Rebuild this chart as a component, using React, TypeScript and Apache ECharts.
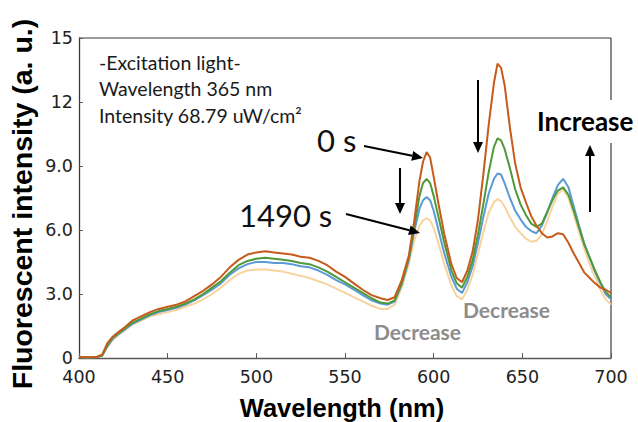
import React, { useEffect, useRef } from "react";
import * as echarts from "echarts";

const wavelengths = [400, 405, 410, 413, 416, 419, 422, 426, 430, 435, 440, 445, 450, 455, 460, 465, 470, 475, 480, 485, 490, 495, 500, 505, 510, 515, 520, 525, 530, 535, 540, 545, 550, 555, 560, 565, 570, 574, 578, 582, 586, 589, 592, 594, 596, 598, 600, 603, 606, 610, 613, 616, 619, 622, 625, 628, 631, 634, 636, 638, 640, 643, 646, 649, 652, 655, 658, 661, 664, 667, 670, 673, 676, 679, 682, 685, 688, 691, 694, 697, 700];

const series0s = [0.05, 0.03, 0.05, 0.15, 0.7, 1.0, 1.2, 1.45, 1.75, 1.95, 2.15, 2.3, 2.4, 2.5, 2.65, 2.9, 3.15, 3.45, 3.8, 4.25, 4.6, 4.85, 4.95, 5.0, 4.95, 4.9, 4.85, 4.75, 4.7, 4.55, 4.35, 4.05, 3.8, 3.5, 3.2, 2.95, 2.8, 2.72, 2.85, 3.65, 4.8, 6.4, 8.3, 9.2, 9.65, 9.4, 8.5, 7.1, 5.8, 4.4, 3.75, 3.55, 4.1, 5.0, 6.5, 8.6, 10.9, 12.9, 13.8, 13.6, 12.8, 10.8, 9.1, 8.0, 7.3, 6.65, 6.2, 5.85, 5.65, 5.7, 5.85, 5.8, 5.4, 4.9, 4.45, 4.0, 3.75, 3.5, 3.3, 3.2, 3.05];

const seriesGreen = [0.05, 0.03, 0.05, 0.12, 0.6, 0.95, 1.15, 1.4, 1.65, 1.85, 2.05, 2.2, 2.3, 2.4, 2.55, 2.75, 3.0, 3.3, 3.6, 4.0, 4.35, 4.55, 4.65, 4.7, 4.65, 4.6, 4.55, 4.45, 4.4, 4.25, 4.05, 3.8, 3.55, 3.3, 3.05, 2.8, 2.6, 2.55, 2.7, 3.5, 4.7, 6.1, 7.6, 8.2, 8.4, 8.2, 7.6, 6.5, 5.4, 4.1, 3.5, 3.3, 3.8, 4.6, 5.8, 7.2, 8.7, 9.9, 10.3, 10.2, 9.8, 8.9, 7.9, 7.2, 6.7, 6.3, 6.15, 6.3, 6.85, 7.4, 7.85, 8.0, 7.65, 6.9, 6.1, 5.3, 4.7, 4.1, 3.55, 3.1, 2.85];

const seriesBlue = [0.05, 0.03, 0.05, 0.1, 0.55, 0.9, 1.1, 1.35, 1.6, 1.8, 2.0, 2.15, 2.25, 2.35, 2.5, 2.7, 2.95, 3.2, 3.5, 3.9, 4.2, 4.4, 4.5, 4.5, 4.45, 4.45, 4.4, 4.3, 4.25, 4.1, 3.9, 3.65, 3.45, 3.2, 2.95, 2.7, 2.55, 2.5, 2.65, 3.45, 4.6, 5.9, 7.0, 7.4, 7.55, 7.4, 6.9, 5.9, 4.9, 3.8, 3.25, 3.05, 3.55, 4.3, 5.4, 6.6, 7.7, 8.4, 8.65, 8.6, 8.2, 7.5, 6.9, 6.5, 6.15, 5.95, 5.85, 6.2, 6.8, 7.5, 8.1, 8.4, 8.0, 7.1, 6.2, 5.35, 4.7, 4.05, 3.5, 3.0, 2.75];

const series1490s = [0.05, 0.03, 0.05, 0.1, 0.5, 0.85, 1.05, 1.3, 1.55, 1.75, 1.95, 2.05, 2.15, 2.25, 2.4, 2.55, 2.75, 3.0, 3.3, 3.65, 3.95, 4.1, 4.15, 4.15, 4.1, 4.05, 3.95, 3.85, 3.75, 3.6, 3.45, 3.25, 3.05, 2.85, 2.65, 2.45, 2.3, 2.3, 2.5, 3.3, 4.4, 5.5, 6.2, 6.45, 6.55, 6.45, 6.1, 5.3, 4.4, 3.4, 2.9, 2.75, 3.2, 3.9, 4.9, 5.9, 6.8, 7.3, 7.45, 7.35, 7.1, 6.6, 6.15, 5.85, 5.6, 5.45, 5.5, 5.8, 6.4, 7.1, 7.7, 7.9, 7.5, 6.7, 5.9, 5.1, 4.4, 3.8, 3.2, 2.75, 2.5];

const yTickLabels = ["0", "3.0", "6.0", "9.0", "12", "15"];
const xTicks = [400, 450, 500, 550, 600, 650, 700];

const infoLines = ["-Excitation light-", "Wavelength 365 nm", "Intensity 68.79 uW/cm²"];

function arrow(x1: number, y1: number, x2: number, y2: number, head = 11, half = 5) {
  const dx = x2 - x1;
  const dy = y2 - y1;
  const len = Math.sqrt(dx * dx + dy * dy);
  const ux = dx / len;
  const uy = dy / len;
  const bx = x2 - ux * head;
  const by = y2 - uy * head;
  const px = -uy;
  const py = ux;
  return [
    { type: "line", shape: { x1, y1, x2: bx, y2: by }, style: { stroke: "#000", lineWidth: 2 }, z: 10 },
    {
      type: "polygon",
      shape: { points: [[x2, y2], [bx + px * half, by + py * half], [bx - px * half, by - py * half]] },
      style: { fill: "#000" },
      z: 10,
    },
  ];
}

export default function App() {
  const ref = useRef<HTMLDivElement>(null);
  useEffect(() => {
    if (!ref.current) return;
    const chart = echarts.init(ref.current, null, { renderer: "svg" });
    const mk = (vals: number[]) => wavelengths.map((w, i) => [w, vals[i]]);
    const plotL = 79, plotT = 38, plotR = 611, plotB = 358;
    chart.setOption({
      animation: false,
      backgroundColor: "#fff",
      grid: { left: plotL, top: plotT, right: 638 - plotR, bottom: 422 - plotB },
      xAxis: {
        type: "value",
        min: 400,
        max: 700,
        interval: 50,
        axisLine: { show: true, lineStyle: { color: "#5a5a5a", width: 1.3 } },
        axisTick: { show: true, inside: true, length: 5, lineStyle: { color: "#5a5a5a" } },
        axisLabel: {
          fontSize: 17.5,
          lineHeight: 15,
          fontFamily: "DejaVu Sans",
          color: "#222",
          margin: 11,
          formatter: (v: number) => (xTicks.indexOf(v) >= 0 ? String(v) : ""),
        },
        splitLine: { show: false },
      },
      yAxis: {
        type: "value",
        min: 0,
        max: 15,
        interval: 3,
        axisLine: { show: true, lineStyle: { color: "#3a3a3a", width: 1.3 } },
        axisTick: { show: true, inside: true, length: 4, lineStyle: { color: "#5a5a5a" } },
        axisLabel: {
          fontSize: 17.5,
          lineHeight: 15,
          fontFamily: "DejaVu Sans",
          color: "#222",
          margin: 6,
          formatter: (v: number) => yTickLabels[Math.round(v / 3)] ?? "",
        },
        splitLine: { show: false },
      },
      series: [
        { name: "1490 s", type: "line", data: mk(series1490s), showSymbol: false, lineStyle: { color: "#F9D39E", width: 2 }, itemStyle: { color: "#F9D39E" } },
        { name: "blue", type: "line", data: mk(seriesBlue), showSymbol: false, lineStyle: { color: "#5B9BD5", width: 2 }, itemStyle: { color: "#5B9BD5" } },
        { name: "green", type: "line", data: mk(seriesGreen), showSymbol: false, lineStyle: { color: "#4E9A3A", width: 2 }, itemStyle: { color: "#4E9A3A" } },
        { name: "0 s", type: "line", data: mk(series0s), showSymbol: false, lineStyle: { color: "#C65B1C", width: 2 }, itemStyle: { color: "#C65B1C" } },
      ],
      graphic: [
        { type: "line", shape: { x1: plotL, y1: plotT, x2: plotR, y2: plotT }, style: { stroke: "#3a3a3a", lineWidth: 1.2 } },
        { type: "line", shape: { x1: plotR, y1: plotT, x2: plotR, y2: 100 }, style: { stroke: "#3a3a3a", lineWidth: 1.2 } },
        { type: "line", shape: { x1: plotR, y1: 143, x2: plotR, y2: plotB }, style: { stroke: "#3a3a3a", lineWidth: 1.2 } },
        ...infoLines.map((t, i) => ({
          type: "text",
          left: 99,
          top: 52 + i * 26.5,
          style: { text: t, fontSize: 19.5, fontFamily: "Lato", fill: "#1a1a1a" },
        })),
        { type: "text", left: 317, top: 124, style: { text: "0 s", fontSize: 31, fontFamily: "Lato", fill: "#111" } },
        { type: "text", left: 239, top: 199, style: { text: "1490 s", fontSize: 31, fontFamily: "Lato", fill: "#111" } },
        { type: "text", left: 537, top: 108, style: { text: "Increase", fontSize: 26, fontWeight: "bold", fontFamily: "Lato", fill: "#000" } },
        { type: "text", left: 374, top: 321, style: { text: "Decrease", fontSize: 21, fontWeight: "bold", fontFamily: "Lato", fill: "#8c8c8c" } },
        { type: "text", left: 463, top: 299, style: { text: "Decrease", fontSize: 21, fontWeight: "bold", fontFamily: "Lato", fill: "#8c8c8c" } },
        ...arrow(364, 146, 423, 158),
        ...arrow(346, 214, 420, 233),
        ...arrow(400, 168, 400, 214),
        ...arrow(478, 80, 478, 153),
        ...arrow(590, 212, 590, 145),
        {
          type: "text",
          x: 22,
          y: 204,
          rotation: Math.PI / 2,
          style: {
            text: "Fluorescent intensity (a. u.)",
            fontSize: 28.5,
            fontWeight: "bold",
            fontFamily: "Liberation Sans",
            fill: "#000",
            align: "center",
            verticalAlign: "middle",
          },
        },
        {
          type: "text",
          x: 342,
          y: 408,
          style: {
            text: "Wavelength (nm)",
            fontSize: 25.5,
            fontWeight: "bold",
            fontFamily: "Liberation Sans",
            fill: "#000",
            align: "center",
            verticalAlign: "middle",
          },
        },
      ],
    });
    return () => chart.dispose();
  }, []);
  return <div ref={ref} style={{ position: "fixed", left: 0, top: 0, width: 638, height: 422 }} />;
}
